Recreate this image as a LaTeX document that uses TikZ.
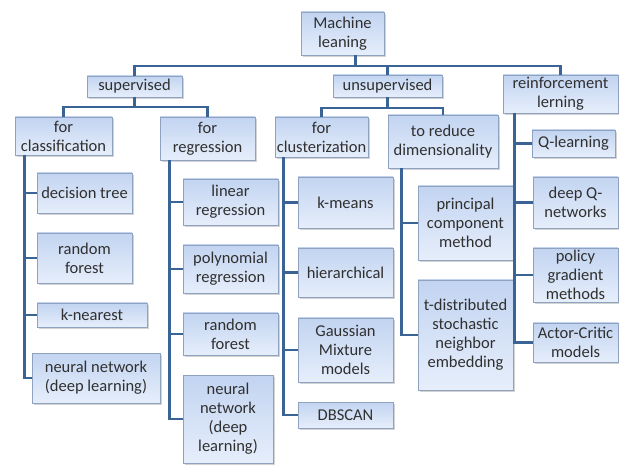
\documentclass[tikz,border=0pt]{standalone}
\usepackage{fontspec}
\setmainfont{Carlito}
\usetikzlibrary{shadows}
\definecolor{linec}{HTML}{3A6496}
\definecolor{boxtop}{HTML}{C2D4F1}
\definecolor{boxbot}{HTML}{E6EEFB}
\definecolor{boxedge}{HTML}{8FA3C0}
\definecolor{txt}{HTML}{303030}
\tikzset{
  box/.style={draw=boxedge, line width=0.8pt, top color=boxtop, bottom color=boxbot,
    inner sep=0pt, align=center, text=txt,
    font=\fontsize{16.5}{19}\selectfont,
    drop shadow={shadow xshift=2pt, shadow yshift=-2pt, opacity=0.35, fill=gray}},
  conn/.style={draw=linec, line width=2.6pt}
}
\newcommand\bx[6]{%
  \path ({(#2+#4)/2},{(#3+#5)/2}) node[box, minimum width={(#4-#2)*1pt}, minimum height={(#5-#3)*1pt}] (#1) {#6};}
\begin{document}
\begin{tikzpicture}[x=1pt,y=-1pt]
\useasboundingbox (0,0) rectangle (619,465);
% lines first
\coordinate (bus0) at (0,66);
\coordinate (bus1) at (0,107);
\coordinate (bus2) at (0,108);
% boxes
\bx{root}{301}{12}{384}{55}{Machine\\leaning}
\bx{sup}{87}{76}{182}{97}{supervised}
\bx{unsup}{333}{75}{442}{97}{unsupervised}
\bx{rein}{503}{75}{618}{113}{reinforcement\\lerning}
\bx{cls}{15}{117}{112}{155}{for\\classification}
\bx{reg}{160}{117}{255}{160}{for\\regression}
\bx{clu}{275}{117}{368}{157}{for\\clusterization}
\bx{dim}{388}{115}{498}{168}{to reduce\\dimensionality}
\bx{ql}{532}{130}{615}{157}{Q-learning}
\bx{dt}{37}{173}{132}{213}{decision tree}
\bx{rfa}{37}{233}{132}{283}{random\\forest}
\bx{kn}{37}{303}{147}{327}{k-nearest}
\bx{nna}{32}{353}{160}{403}{neural network\\(deep learning)}
\bx{lr}{183}{179}{278}{225}{linear\\regression}
\bx{pr}{183}{245}{278}{293}{polynomial\\regression}
\bx{rfb}{183}{313}{278}{355}{random\\forest}
\bx{nnb}{183}{375}{273}{463}{neural\\network\\(deep\\learning)}
\bx{km}{298}{177}{393}{228}{k-means}
\bx{hi}{298}{248}{393}{297}{hierarchical}
\bx{gm}{298}{318}{393}{382}{Gaussian\\Mixture\\models}
\bx{db}{298}{402}{393}{428}{DBSCAN}
\bx{pc}{418}{186}{513}{260}{principal\\component\\method}
\bx{ts}{418}{280}{513}{390}{t-distributed\\stochastic\\neighbor\\embedding}
\bx{dq}{533}{177}{618}{228}{deep Q-\\networks}
\bx{pg}{533}{248}{618}{302}{policy\\gradient\\methods}
\bx{ac}{533}{323}{618}{362}{Actor-Critic\\models}
% top level
\draw[conn] ([xshift=13pt]root.south) -- ([xshift=13pt]root.south |- bus0);
\draw[conn] (sup.north) |- (rein.north |- bus0) -- (rein.north);
\draw[conn] (unsup.north) -- (unsup.north |- bus0);
% supervised
\draw[conn] (sup.south) -- (sup.south |- bus1);
\draw[conn] (cls.north) |- (reg.north |- bus1) -- (reg.north);
% unsupervised
\draw[conn] (unsup.south) -- (unsup.south |- bus2);
\draw[conn] (clu.north) |- (dim.north |- bus2) -- (dim.north);
% trunks
\coordinate (ta) at ([xshift=10pt]cls.south west);
\draw[conn] (ta) |- (nna.west);
\foreach \n in {dt,rfa,kn} \draw[conn] (\n.west) -- (\n.west -| ta);
\coordinate (tb) at ([xshift=10pt]reg.south west);
\draw[conn] (tb) |- (nnb.west);
\foreach \n in {lr,pr,rfb} \draw[conn] (\n.west) -- (\n.west -| tb);
\coordinate (tc) at ([xshift=9pt]clu.south west);
\draw[conn] (tc) |- (db.west);
\foreach \n in {km,hi,gm} \draw[conn] (\n.west) -- (\n.west -| tc);
\coordinate (td) at ([xshift=14pt]dim.south west);
\draw[conn] (td) |- (ts.west);
\draw[conn] (pc.west) -- (pc.west -| td);
\coordinate (te) at ([xshift=12pt]rein.south west);
\draw[conn] (te) |- (ac.west);
\foreach \n in {ql,dq,pg} \draw[conn] (\n.west) -- (\n.west -| te);
\end{tikzpicture}
\end{document}
